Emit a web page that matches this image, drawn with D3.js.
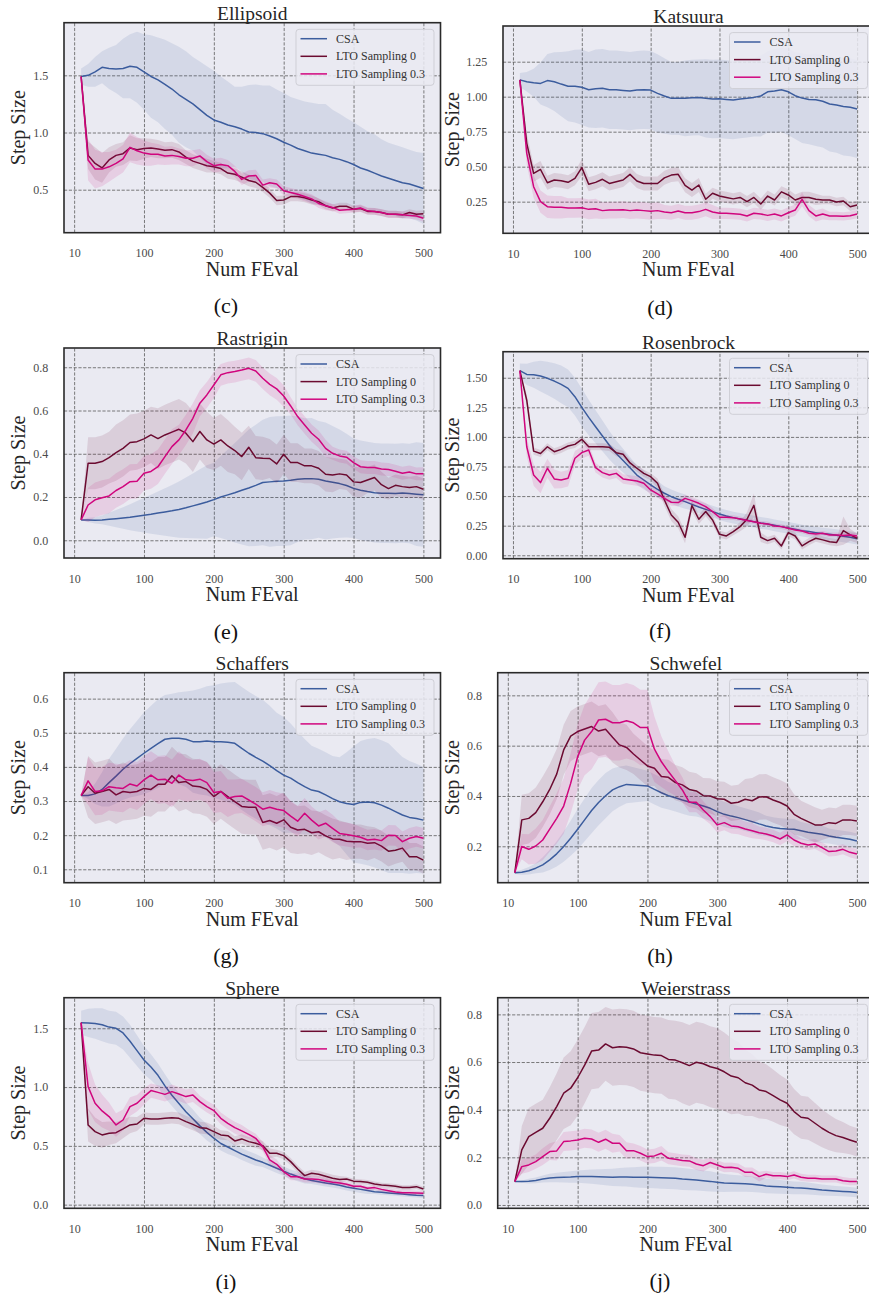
<!DOCTYPE html>
<html><head><meta charset="utf-8">
<script src="https://cdn.jsdelivr.net/npm/d3@7"></script>
<style>
html,body{margin:0;padding:0;background:#fff;}
svg{display:block;}
text{font-family:"Liberation Serif","Times New Roman",serif;}
</style></head>
<body>
<svg id="chart" width="869" height="1302"></svg>
<script>
// ---------- shared axis data ----------
const xValues = [10,20,30,40,50,60,70,80,90,100,110,120,130,140,150,160,170,180,190,200,210,220,230,240,250,260,270,280,290,300,310,320,330,340,350,360,370,380,390,400,410,420,430,440,450,460,470,480,490,500];
const xTicks = [0,100,200,300,400,500];
const xTickLabels = ["10","100","200","300","400","500"];
const seriesNames = ["CSA","LTO Sampling 0","LTO Sampling 0.3"];

// ---------- Ellipsoid ----------
const ellipsoidCSA = [1.49,1.50,1.53,1.57,1.56,1.555,1.56,1.58,1.57,1.53,1.49,1.46,1.42,1.38,1.33,1.29,1.25,1.20,1.15,1.11,1.09,1.065,1.05,1.03,1.005,1.00,0.99,0.97,0.945,0.915,0.89,0.86,0.84,0.82,0.81,0.80,0.78,0.765,0.745,0.72,0.69,0.67,0.645,0.62,0.60,0.58,0.56,0.55,0.53,0.51];
const ellipsoidCSASd = [0.07,0.10,0.13,0.14,0.18,0.21,0.26,0.28,0.31,0.33,0.36,0.37,0.39,0.40,0.42,0.42,0.41,0.42,0.43,0.43,0.40,0.38,0.35,0.37,0.41,0.42,0.42,0.44,0.43,0.43,0.42,0.43,0.43,0.44,0.44,0.45,0.42,0.40,0.38,0.37,0.36,0.34,0.34,0.32,0.31,0.31,0.31,0.30,0.30,0.31];
const ellipsoidLTO0 = [1.49,0.80,0.73,0.69,0.76,0.80,0.815,0.865,0.85,0.86,0.865,0.855,0.845,0.85,0.83,0.785,0.75,0.73,0.71,0.70,0.685,0.645,0.635,0.61,0.58,0.565,0.52,0.47,0.405,0.41,0.44,0.44,0.43,0.41,0.395,0.36,0.34,0.355,0.355,0.33,0.335,0.31,0.31,0.30,0.285,0.285,0.28,0.30,0.285,0.29];
const ellipsoidLTO0Sd = [0.0,0.12,0.14,0.13,0.11,0.10,0.10,0.11,0.10,0.09,0.08,0.08,0.07,0.07,0.07,0.06,0.06,0.06,0.06,0.05,0.05,0.05,0.05,0.05,0.05,0.05,0.04,0.04,0.04,0.04,0.04,0.04,0.04,0.04,0.03,0.03,0.03,0.03,0.03,0.03,0.03,0.03,0.03,0.03,0.03,0.03,0.03,0.03,0.03,0.03];
const ellipsoidLTO03 = [1.49,0.76,0.68,0.68,0.70,0.73,0.77,0.87,0.84,0.82,0.81,0.81,0.795,0.80,0.79,0.775,0.775,0.795,0.745,0.71,0.72,0.71,0.66,0.59,0.62,0.625,0.54,0.56,0.55,0.49,0.475,0.46,0.44,0.42,0.38,0.36,0.345,0.32,0.325,0.33,0.34,0.315,0.31,0.30,0.285,0.285,0.28,0.275,0.27,0.25];
const ellipsoidLTO03Sd = [0.0,0.18,0.17,0.15,0.13,0.12,0.12,0.13,0.12,0.11,0.10,0.09,0.08,0.08,0.07,0.07,0.07,0.06,0.06,0.06,0.06,0.05,0.05,0.05,0.05,0.05,0.05,0.04,0.04,0.04,0.04,0.04,0.04,0.04,0.04,0.04,0.03,0.03,0.03,0.03,0.03,0.03,0.03,0.03,0.03,0.03,0.03,0.03,0.03,0.03];

// ---------- Katsuura ----------
const katsuuraCSA = [1.12,1.107,1.10,1.095,1.115,1.107,1.09,1.075,1.075,1.067,1.05,1.057,1.06,1.05,1.05,1.045,1.04,1.047,1.05,1.047,1.024,1.005,0.988,0.988,0.988,0.993,0.995,0.988,0.983,0.985,0.98,0.976,0.983,0.988,0.995,1.005,1.035,1.04,1.05,1.035,1.007,0.99,0.98,0.978,0.967,0.948,0.94,0.93,0.924,0.912];
const katsuuraCSASd = [0.05,0.07,0.10,0.15,0.19,0.21,0.23,0.25,0.26,0.27,0.27,0.28,0.28,0.28,0.28,0.28,0.28,0.28,0.28,0.28,0.28,0.27,0.26,0.26,0.27,0.27,0.27,0.28,0.28,0.28,0.28,0.28,0.28,0.28,0.28,0.29,0.29,0.30,0.30,0.31,0.31,0.32,0.32,0.33,0.33,0.34,0.34,0.35,0.35,0.35];
const katsuuraLTO0 = [1.12,0.667,0.452,0.48,0.385,0.405,0.40,0.388,0.417,0.493,0.374,0.388,0.41,0.38,0.393,0.405,0.445,0.398,0.38,0.38,0.38,0.42,0.44,0.445,0.367,0.333,0.369,0.267,0.31,0.29,0.28,0.27,0.28,0.25,0.28,0.233,0.29,0.262,0.32,0.298,0.262,0.28,0.28,0.267,0.262,0.262,0.248,0.255,0.214,0.226];
const katsuuraLTO0Sd = [0.0,0.07,0.06,0.06,0.05,0.05,0.05,0.05,0.05,0.06,0.05,0.05,0.05,0.05,0.05,0.05,0.05,0.05,0.05,0.05,0.05,0.05,0.05,0.05,0.05,0.05,0.05,0.04,0.04,0.04,0.04,0.04,0.04,0.04,0.04,0.04,0.04,0.04,0.04,0.04,0.04,0.04,0.04,0.04,0.03,0.03,0.03,0.03,0.03,0.03];
const katsuuraLTO03 = [1.12,0.595,0.357,0.25,0.214,0.21,0.21,0.205,0.205,0.207,0.195,0.20,0.186,0.19,0.19,0.193,0.186,0.19,0.186,0.181,0.186,0.176,0.171,0.183,0.171,0.171,0.179,0.195,0.176,0.167,0.167,0.164,0.16,0.148,0.167,0.162,0.152,0.162,0.148,0.171,0.19,0.267,0.186,0.148,0.162,0.148,0.148,0.145,0.15,0.162];
const katsuuraLTO03Sd = [0.0,0.08,0.08,0.08,0.08,0.08,0.08,0.07,0.07,0.07,0.07,0.07,0.06,0.06,0.06,0.06,0.06,0.06,0.06,0.06,0.06,0.05,0.05,0.05,0.05,0.05,0.05,0.05,0.05,0.04,0.04,0.04,0.04,0.04,0.04,0.04,0.04,0.04,0.04,0.04,0.04,0.05,0.04,0.04,0.04,0.03,0.03,0.03,0.03,0.03];

// ---------- Rastrigin ----------
const rastriginCSA = [0.094,0.094,0.092,0.094,0.097,0.10,0.103,0.106,0.111,0.116,0.12,0.126,0.131,0.136,0.142,0.15,0.159,0.168,0.177,0.188,0.20,0.21,0.22,0.231,0.242,0.254,0.267,0.27,0.273,0.274,0.277,0.282,0.284,0.285,0.282,0.274,0.268,0.262,0.253,0.24,0.231,0.225,0.22,0.217,0.217,0.216,0.219,0.216,0.213,0.21];
const rastriginCSASd = [0.0,0.01,0.015,0.02,0.03,0.04,0.05,0.06,0.07,0.08,0.09,0.10,0.11,0.12,0.13,0.14,0.15,0.16,0.17,0.17,0.19,0.21,0.23,0.25,0.27,0.28,0.29,0.30,0.30,0.30,0.30,0.29,0.28,0.28,0.27,0.27,0.26,0.25,0.24,0.23,0.23,0.23,0.23,0.23,0.23,0.23,0.23,0.23,0.24,0.24];
const rastriginLTO0 = [0.094,0.356,0.356,0.364,0.382,0.405,0.425,0.452,0.456,0.469,0.487,0.47,0.487,0.50,0.513,0.495,0.456,0.503,0.464,0.445,0.464,0.436,0.415,0.387,0.43,0.382,0.379,0.378,0.353,0.398,0.359,0.359,0.344,0.344,0.333,0.305,0.302,0.307,0.302,0.27,0.267,0.279,0.29,0.257,0.239,0.254,0.248,0.244,0.248,0.236];
const rastriginLTO0Sd = [0.0,0.12,0.12,0.12,0.12,0.13,0.13,0.13,0.13,0.13,0.13,0.14,0.14,0.14,0.14,0.14,0.14,0.13,0.13,0.12,0.12,0.12,0.11,0.11,0.10,0.10,0.10,0.09,0.09,0.09,0.09,0.09,0.08,0.08,0.08,0.08,0.08,0.07,0.07,0.07,0.07,0.06,0.06,0.06,0.05,0.05,0.05,0.05,0.05,0.05];
const rastriginLTO03 = [0.094,0.163,0.187,0.197,0.205,0.23,0.248,0.271,0.273,0.31,0.318,0.34,0.387,0.433,0.464,0.51,0.564,0.634,0.672,0.718,0.765,0.775,0.78,0.787,0.795,0.783,0.749,0.721,0.70,0.667,0.621,0.572,0.533,0.495,0.467,0.425,0.402,0.39,0.384,0.359,0.34,0.336,0.336,0.33,0.327,0.319,0.31,0.316,0.307,0.308];
const rastriginLTO03Sd = [0.0,0.08,0.08,0.08,0.08,0.08,0.08,0.08,0.08,0.08,0.08,0.08,0.08,0.08,0.07,0.07,0.07,0.06,0.06,0.06,0.05,0.05,0.05,0.05,0.05,0.05,0.05,0.05,0.05,0.05,0.04,0.04,0.04,0.04,0.04,0.04,0.03,0.03,0.03,0.03,0.03,0.03,0.03,0.03,0.03,0.03,0.03,0.03,0.03,0.03];

// ---------- Rosenbrock ----------
const rosenbrockCSA = [1.56,1.528,1.525,1.514,1.495,1.472,1.444,1.41,1.34,1.25,1.165,1.086,1.008,0.93,0.86,0.80,0.74,0.678,0.636,0.594,0.557,0.524,0.495,0.473,0.453,0.43,0.408,0.388,0.369,0.349,0.332,0.318,0.307,0.296,0.284,0.273,0.265,0.253,0.242,0.231,0.22,0.208,0.20,0.191,0.183,0.177,0.169,0.16,0.152,0.14];
const rosenbrockCSASd = [0.06,0.09,0.11,0.13,0.14,0.15,0.16,0.16,0.16,0.16,0.15,0.14,0.13,0.12,0.11,0.10,0.09,0.08,0.08,0.07,0.07,0.06,0.06,0.06,0.06,0.05,0.05,0.05,0.05,0.05,0.05,0.05,0.05,0.05,0.05,0.05,0.05,0.05,0.05,0.05,0.05,0.05,0.05,0.05,0.05,0.05,0.05,0.05,0.05,0.05];
const rosenbrockLTO0 = [1.56,1.31,0.88,0.86,0.917,0.875,0.895,0.923,0.937,0.98,0.917,0.917,0.917,0.912,0.867,0.853,0.78,0.735,0.692,0.664,0.608,0.467,0.34,0.279,0.152,0.42,0.304,0.369,0.298,0.177,0.163,0.20,0.242,0.304,0.422,0.152,0.124,0.144,0.079,0.191,0.163,0.079,0.115,0.144,0.13,0.115,0.107,0.208,0.172,0.144];
const rosenbrockLTO0Sd = [0.0,0.05,0.03,0.03,0.03,0.03,0.03,0.03,0.03,0.03,0.03,0.03,0.03,0.03,0.03,0.03,0.03,0.03,0.03,0.03,0.04,0.05,0.05,0.05,0.05,0.05,0.04,0.04,0.04,0.03,0.03,0.03,0.04,0.06,0.10,0.04,0.03,0.03,0.03,0.03,0.03,0.03,0.03,0.03,0.03,0.03,0.03,0.12,0.05,0.04];
const rosenbrockLTO03 = [1.56,0.917,0.678,0.614,0.735,0.645,0.636,0.65,0.82,0.867,0.89,0.74,0.698,0.678,0.692,0.645,0.636,0.628,0.608,0.552,0.518,0.481,0.448,0.445,0.481,0.462,0.439,0.411,0.369,0.321,0.321,0.318,0.307,0.293,0.284,0.27,0.265,0.248,0.242,0.228,0.214,0.205,0.186,0.18,0.186,0.172,0.172,0.166,0.172,0.163];
const rosenbrockLTO03Sd = [0.0,0.08,0.09,0.09,0.08,0.08,0.07,0.07,0.06,0.05,0.05,0.04,0.04,0.04,0.04,0.04,0.04,0.04,0.04,0.04,0.03,0.03,0.03,0.03,0.03,0.03,0.03,0.03,0.03,0.02,0.02,0.02,0.02,0.02,0.02,0.02,0.02,0.02,0.02,0.02,0.02,0.02,0.02,0.02,0.02,0.02,0.02,0.02,0.02,0.02];

// ---------- Schaffers ----------
const schaffersCSA = [0.316,0.316,0.321,0.334,0.354,0.373,0.393,0.41,0.425,0.44,0.454,0.468,0.481,0.484,0.484,0.481,0.474,0.474,0.476,0.474,0.474,0.472,0.469,0.454,0.44,0.428,0.417,0.404,0.389,0.376,0.367,0.354,0.342,0.332,0.328,0.318,0.307,0.298,0.293,0.29,0.296,0.297,0.295,0.288,0.279,0.269,0.259,0.252,0.249,0.244];
const schaffersCSASd = [0.0,0.01,0.03,0.05,0.07,0.08,0.09,0.10,0.11,0.12,0.125,0.13,0.13,0.13,0.135,0.14,0.15,0.155,0.16,0.165,0.17,0.175,0.18,0.18,0.18,0.18,0.18,0.175,0.17,0.17,0.16,0.15,0.14,0.13,0.125,0.125,0.125,0.13,0.15,0.17,0.18,0.185,0.19,0.19,0.19,0.18,0.17,0.165,0.16,0.156];
const schaffersLTO0 = [0.316,0.342,0.323,0.328,0.334,0.318,0.328,0.325,0.328,0.337,0.334,0.349,0.349,0.374,0.354,0.357,0.344,0.342,0.334,0.313,0.328,0.313,0.298,0.284,0.282,0.282,0.237,0.243,0.235,0.245,0.223,0.215,0.217,0.207,0.21,0.198,0.189,0.188,0.182,0.181,0.181,0.176,0.178,0.168,0.153,0.156,0.162,0.137,0.137,0.127];
const schaffersLTO0Sd = [0.0,0.09,0.09,0.09,0.09,0.085,0.085,0.08,0.08,0.08,0.08,0.08,0.08,0.085,0.085,0.08,0.08,0.08,0.08,0.08,0.08,0.08,0.08,0.08,0.08,0.08,0.08,0.08,0.08,0.08,0.075,0.07,0.07,0.065,0.06,0.06,0.06,0.055,0.055,0.05,0.05,0.05,0.045,0.045,0.045,0.04,0.04,0.04,0.04,0.04];
const schaffersLTO03 = [0.316,0.359,0.328,0.33,0.342,0.339,0.337,0.35,0.344,0.362,0.376,0.362,0.364,0.352,0.376,0.362,0.36,0.364,0.354,0.325,0.328,0.308,0.313,0.315,0.303,0.291,0.276,0.282,0.276,0.272,0.256,0.241,0.264,0.244,0.227,0.235,0.22,0.205,0.202,0.198,0.194,0.186,0.188,0.184,0.20,0.199,0.181,0.191,0.196,0.191];
const schaffersLTO03Sd = [0.0,0.07,0.07,0.07,0.07,0.07,0.07,0.07,0.07,0.07,0.07,0.07,0.07,0.07,0.07,0.065,0.06,0.06,0.06,0.06,0.06,0.055,0.05,0.05,0.05,0.05,0.05,0.05,0.05,0.05,0.045,0.045,0.045,0.04,0.04,0.04,0.04,0.035,0.035,0.035,0.03,0.03,0.03,0.03,0.03,0.03,0.03,0.03,0.03,0.03];

// ---------- Schwefel ----------
const schwefelCSA = [0.095,0.097,0.103,0.113,0.126,0.146,0.17,0.199,0.232,0.268,0.305,0.342,0.374,0.401,0.424,0.437,0.446,0.444,0.442,0.44,0.426,0.413,0.401,0.393,0.384,0.376,0.368,0.36,0.351,0.338,0.327,0.32,0.314,0.306,0.298,0.289,0.281,0.275,0.271,0.269,0.268,0.262,0.256,0.252,0.248,0.241,0.236,0.232,0.228,0.221];
const schwefelCSASd = [0.005,0.01,0.015,0.02,0.03,0.04,0.05,0.06,0.07,0.08,0.085,0.09,0.09,0.09,0.085,0.08,0.075,0.07,0.065,0.06,0.06,0.06,0.055,0.055,0.055,0.055,0.05,0.05,0.05,0.05,0.05,0.05,0.045,0.045,0.045,0.045,0.04,0.04,0.04,0.04,0.04,0.035,0.035,0.035,0.035,0.03,0.03,0.03,0.03,0.03];
const schwefelLTO0 = [0.095,0.305,0.311,0.334,0.377,0.426,0.487,0.583,0.638,0.656,0.666,0.676,0.658,0.665,0.633,0.603,0.593,0.567,0.543,0.519,0.51,0.477,0.474,0.453,0.444,0.426,0.42,0.401,0.40,0.389,0.387,0.371,0.375,0.387,0.381,0.396,0.397,0.384,0.374,0.36,0.327,0.311,0.298,0.285,0.285,0.294,0.291,0.305,0.305,0.301];
const schwefelLTO0Sd = [0.0,0.1,0.1,0.1,0.1,0.1,0.1,0.1,0.1,0.1,0.1,0.1,0.1,0.1,0.1,0.09,0.09,0.08,0.08,0.08,0.07,0.07,0.07,0.07,0.07,0.07,0.07,0.07,0.07,0.07,0.07,0.07,0.07,0.08,0.09,0.09,0.09,0.09,0.09,0.09,0.08,0.07,0.07,0.07,0.06,0.06,0.06,0.06,0.06,0.06];
const schwefelLTO03 = [0.095,0.199,0.188,0.201,0.225,0.268,0.311,0.36,0.45,0.556,0.622,0.656,0.702,0.705,0.691,0.691,0.699,0.691,0.672,0.672,0.586,0.536,0.497,0.461,0.424,0.375,0.375,0.344,0.318,0.285,0.294,0.281,0.278,0.269,0.262,0.254,0.249,0.241,0.229,0.245,0.225,0.212,0.205,0.209,0.195,0.179,0.181,0.188,0.176,0.169];
const schwefelLTO03Sd = [0.0,0.05,0.06,0.07,0.08,0.09,0.1,0.11,0.12,0.13,0.14,0.15,0.15,0.15,0.15,0.15,0.15,0.15,0.15,0.15,0.13,0.1,0.08,0.06,0.05,0.04,0.04,0.035,0.03,0.03,0.03,0.03,0.03,0.03,0.03,0.025,0.025,0.025,0.025,0.025,0.025,0.02,0.02,0.02,0.02,0.02,0.02,0.02,0.02,0.02];

// ---------- Sphere ----------
const sphereCSA = [1.548,1.545,1.54,1.53,1.51,1.50,1.46,1.39,1.31,1.23,1.17,1.10,1.01,0.93,0.86,0.79,0.73,0.67,0.615,0.565,0.52,0.49,0.46,0.43,0.405,0.38,0.36,0.335,0.31,0.285,0.26,0.24,0.22,0.205,0.195,0.185,0.175,0.165,0.15,0.14,0.13,0.12,0.11,0.105,0.10,0.095,0.09,0.085,0.08,0.077];
const sphereCSASd = [0.1,0.12,0.13,0.14,0.14,0.14,0.14,0.14,0.13,0.12,0.11,0.10,0.10,0.09,0.09,0.08,0.08,0.07,0.07,0.06,0.06,0.06,0.05,0.05,0.05,0.05,0.04,0.04,0.04,0.04,0.04,0.04,0.04,0.03,0.03,0.03,0.03,0.03,0.03,0.03,0.03,0.03,0.02,0.02,0.02,0.02,0.02,0.02,0.02,0.02];
const sphereLTO0 = [1.548,0.678,0.621,0.593,0.607,0.612,0.644,0.678,0.686,0.734,0.729,0.729,0.734,0.74,0.734,0.706,0.683,0.655,0.649,0.621,0.593,0.587,0.542,0.559,0.536,0.522,0.502,0.437,0.437,0.417,0.366,0.303,0.247,0.267,0.258,0.241,0.224,0.213,0.218,0.20,0.196,0.19,0.176,0.167,0.162,0.156,0.145,0.145,0.153,0.133];
const sphereLTO0Sd = [0.0,0.14,0.12,0.11,0.1,0.09,0.08,0.07,0.06,0.05,0.05,0.05,0.05,0.05,0.05,0.05,0.05,0.05,0.05,0.05,0.04,0.04,0.04,0.04,0.04,0.04,0.04,0.04,0.03,0.03,0.03,0.03,0.03,0.03,0.03,0.03,0.03,0.03,0.02,0.02,0.02,0.02,0.02,0.02,0.02,0.02,0.02,0.02,0.02,0.02];
const sphereLTO03 = [1.548,1.004,0.862,0.797,0.749,0.678,0.72,0.834,0.862,0.919,0.97,0.955,0.938,0.961,0.941,0.919,0.933,0.876,0.834,0.80,0.734,0.692,0.655,0.627,0.598,0.564,0.493,0.38,0.343,0.281,0.238,0.238,0.218,0.218,0.213,0.201,0.19,0.184,0.173,0.156,0.156,0.139,0.145,0.13,0.119,0.108,0.102,0.102,0.099,0.096];
const sphereLTO03Sd = [0.0,0.2,0.16,0.14,0.12,0.1,0.09,0.08,0.07,0.07,0.06,0.06,0.06,0.06,0.06,0.06,0.06,0.05,0.05,0.05,0.05,0.05,0.05,0.05,0.04,0.04,0.04,0.04,0.04,0.03,0.03,0.03,0.03,0.03,0.03,0.03,0.02,0.02,0.02,0.02,0.02,0.02,0.02,0.02,0.02,0.02,0.02,0.02,0.02,0.02];

// ---------- Weierstrass ----------
const weierstrassCSA = [0.098,0.098,0.10,0.103,0.109,0.113,0.115,0.116,0.117,0.119,0.119,0.119,0.118,0.117,0.116,0.117,0.117,0.116,0.116,0.116,0.115,0.114,0.113,0.112,0.109,0.107,0.105,0.102,0.099,0.095,0.092,0.091,0.09,0.089,0.087,0.084,0.08,0.078,0.076,0.074,0.072,0.071,0.069,0.066,0.063,0.061,0.059,0.057,0.055,0.052];
const weierstrassCSASd = [0.0,0.005,0.01,0.012,0.015,0.018,0.02,0.022,0.024,0.026,0.028,0.03,0.032,0.034,0.036,0.038,0.04,0.042,0.044,0.045,0.045,0.046,0.046,0.046,0.046,0.045,0.044,0.043,0.042,0.04,0.038,0.036,0.035,0.034,0.033,0.032,0.031,0.03,0.029,0.028,0.027,0.026,0.025,0.024,0.023,0.022,0.021,0.02,0.02,0.02];
const weierstrassLTO0 = [0.098,0.231,0.287,0.305,0.322,0.364,0.413,0.469,0.49,0.534,0.587,0.646,0.65,0.676,0.66,0.664,0.662,0.655,0.639,0.634,0.629,0.627,0.611,0.608,0.597,0.585,0.599,0.593,0.58,0.573,0.559,0.541,0.534,0.513,0.503,0.483,0.476,0.459,0.441,0.427,0.392,0.368,0.364,0.343,0.322,0.305,0.291,0.283,0.273,0.263];
const weierstrassLTO0Sd = [0.0,0.1,0.12,0.12,0.12,0.13,0.14,0.15,0.155,0.16,0.16,0.16,0.16,0.155,0.16,0.16,0.16,0.16,0.16,0.16,0.16,0.16,0.165,0.165,0.17,0.17,0.17,0.17,0.17,0.17,0.165,0.16,0.15,0.14,0.13,0.12,0.115,0.11,0.105,0.1,0.095,0.09,0.09,0.085,0.08,0.075,0.07,0.065,0.06,0.06];
const weierstrassLTO03 = [0.098,0.161,0.168,0.182,0.203,0.224,0.227,0.266,0.269,0.273,0.28,0.277,0.263,0.276,0.259,0.259,0.228,0.228,0.217,0.203,0.206,0.217,0.196,0.192,0.187,0.185,0.172,0.165,0.178,0.168,0.157,0.158,0.154,0.137,0.137,0.119,0.129,0.123,0.123,0.119,0.126,0.116,0.112,0.112,0.109,0.109,0.109,0.102,0.098,0.098];
const weierstrassLTO03Sd = [0.0,0.03,0.03,0.03,0.035,0.035,0.04,0.04,0.04,0.04,0.04,0.04,0.04,0.04,0.04,0.035,0.035,0.03,0.03,0.03,0.03,0.03,0.025,0.025,0.025,0.025,0.025,0.025,0.02,0.02,0.02,0.02,0.02,0.02,0.02,0.02,0.015,0.015,0.015,0.015,0.015,0.015,0.015,0.015,0.015,0.015,0.015,0.015,0.015,0.015];

// ---------- y ticks per panel ----------
const ellipsoidYTicks = [0.5,1.0,1.5];
const katsuuraYTicks = [0.25,0.5,0.75,1.0,1.25];
const rastriginYTicks = [0.0,0.2,0.4,0.6,0.8];
const rosenbrockYTicks = [0.0,0.25,0.5,0.75,1.0,1.25,1.5];
const schaffersYTicks = [0.1,0.2,0.3,0.4,0.5,0.6];
const schwefelYTicks = [0.2,0.4,0.6,0.8];
const sphereYTicks = [0.0,0.5,1.0,1.5];
const weierstrassYTicks = [0.0,0.2,0.4,0.6,0.8];

// ---------- styles ----------
const colors = ["#3c5d9e","#6b0b30","#d1057e"];
const bgColor = "#eaeaf2";

// ---------- layout (positions only) ----------
const panels = [
  {title:"Ellipsoid", cap:"(c)", x0:64, x1:440.5, y0:22.7, y1:232.7, yDom:[0.124,1.96], fmt:".1f", ticks:ellipsoidYTicks, ylx:25, capX:226, capY:313,
   s:[[ellipsoidCSA,ellipsoidCSASd],[ellipsoidLTO0,ellipsoidLTO0Sd],[ellipsoidLTO03,ellipsoidLTO03Sd]]},
  {title:"Katsuura", cap:"(d)", x0:503, x1:874, y0:26, y1:233.3, yDom:[0.024,1.505], fmt:".2f", ticks:katsuuraYTicks, ylx:459, capX:660, capY:315,
   s:[[katsuuraCSA,katsuuraCSASd],[katsuuraLTO0,katsuuraLTO0Sd],[katsuuraLTO03,katsuuraLTO03Sd]]},
  {title:"Rastrigin", cap:"(e)", x0:64, x1:440.5, y0:348, y1:558, yDom:[-0.082,0.889], fmt:".1f", ticks:rastriginYTicks, ylx:25, capX:226, capY:639,
   s:[[rastriginCSA,rastriginCSASd],[rastriginLTO0,rastriginLTO0Sd],[rastriginLTO03,rastriginLTO03Sd]]},
  {title:"Rosenbrock", cap:"(f)", x0:503, x1:874, y0:351.7, y1:558.7, yDom:[-0.029,1.72], fmt:".2f", ticks:rosenbrockYTicks, ylx:459, capX:660, capY:638,
   s:[[rosenbrockCSA,rosenbrockCSASd],[rosenbrockLTO0,rosenbrockLTO0Sd],[rosenbrockLTO03,rosenbrockLTO03Sd]]},
  {title:"Schaffers", cap:"(g)", x0:64, x1:440.5, y0:672.7, y1:882.7, yDom:[0.0607,0.676], fmt:".1f", ticks:schaffersYTicks, ylx:25, capX:226, capY:963,
   s:[[schaffersCSA,schaffersCSASd],[schaffersLTO0,schaffersLTO0Sd],[schaffersLTO03,schaffersLTO03Sd]]},
  {title:"Schwefel", cap:"(h)", x0:497.7, x1:874, y0:672.7, y1:882.7, yDom:[0.0553,0.89], fmt:".1f", ticks:schwefelYTicks, ylx:459, capX:660, capY:963,
   s:[[schwefelCSA,schwefelCSASd],[schwefelLTO0,schwefelLTO0Sd],[schwefelLTO03,schwefelLTO03Sd]]},
  {title:"Sphere", cap:"(i)", x0:64, x1:440.5, y0:997.7, y1:1208.3, yDom:[-0.031,1.76], fmt:".1f", ticks:sphereYTicks, ylx:25, capX:226, capY:1289,
   s:[[sphereCSA,sphereCSASd],[sphereLTO0,sphereLTO0Sd],[sphereLTO03,sphereLTO03Sd]]},
  {title:"Weierstrass", cap:"(j)", x0:497.7, x1:874, y0:997.7, y1:1208.3, yDom:[-0.014,0.87], fmt:".1f", ticks:weierstrassYTicks, ylx:459, capX:660, capY:1288,
   s:[[weierstrassCSA,weierstrassCSASd],[weierstrassLTO0,weierstrassLTO0Sd],[weierstrassLTO03,weierstrassLTO03Sd]]}
];

const svg = d3.select("#chart");

panels.forEach((p, pi) => {
  const g = svg.append("g");
  const x = d3.scaleLinear().domain([-14.5, 524.5]).range([p.x0, p.x1]);
  const y = d3.scaleLinear().domain(p.yDom).range([p.y1, p.y0]);
  const h = p.y1 - p.y0;

  const clipId = "clip" + pi;
  svg.append("clipPath").attr("id", clipId).append("rect")
    .attr("x", p.x0).attr("y", p.y0).attr("width", p.x1 - p.x0).attr("height", h);

  g.append("rect").attr("x", p.x0).attr("y", p.y0).attr("width", p.x1 - p.x0).attr("height", h).attr("fill", bgColor);

  // grid
  const gx = g.append("g").attr("transform", `translate(0,${p.y1})`)
    .call(d3.axisBottom(x).tickValues(xTicks).tickSize(-h).tickFormat(""));
  const gy = g.append("g").attr("transform", `translate(${p.x0},0)`)
    .call(d3.axisLeft(y).tickValues(p.ticks).tickSize(-(p.x1 - p.x0)).tickFormat(""));
  [gx, gy].forEach(a => {
    a.select(".domain").remove();
    a.selectAll("line").attr("stroke", "#5a5a5a").attr("stroke-width", 0.8).attr("stroke-dasharray", "3.2,1.6");
  });

  // data
  const plot = g.append("g").attr("clip-path", `url(#${clipId})`);
  p.s.forEach((pair, si) => {
    const pts = xValues.map((xv, i) => ({x: xv, m: pair[0][i], sd: pair[1][i]}));
    plot.append("path").datum(pts)
      .attr("fill", "none").attr("stroke", colors[si]).attr("stroke-width", 1.5).attr("stroke-linejoin", "round")
      .attr("d", d3.line().x(d => x(d.x)).y(d => y(d.m)));
    plot.append("path").datum(pts)
      .attr("fill", colors[si]).attr("fill-opacity", 0.12).attr("stroke", "none")
      .attr("d", d3.area().x(d => x(d.x)).y0(d => y(d.m - d.sd)).y1(d => y(d.m + d.sd)));
  });

  // spines
  g.append("rect").attr("x", p.x0).attr("y", p.y0).attr("width", p.x1 - p.x0).attr("height", h)
    .attr("fill", "none").attr("stroke", "#2a2a2a").attr("stroke-width", 1.6);

  // tick labels
  const ax = g.append("g").attr("transform", `translate(0,${p.y1})`)
    .call(d3.axisBottom(x).tickValues(xTicks).tickSize(0).tickPadding(16).tickFormat((d, i) => xTickLabels[i]));
  const ay = g.append("g").attr("transform", `translate(${p.x0},0)`)
    .call(d3.axisLeft(y).tickValues(p.ticks).tickSize(0).tickPadding(15.7).tickFormat(d3.format(p.fmt)));
  [ax, ay].forEach(a => {
    a.select(".domain").remove();
    a.selectAll("text").attr("font-family", '"Liberation Serif", serif').attr("font-size", 12).attr("fill", "#4a4a4a");
  });

  // title and labels
  g.append("text").attr("x", (p.x0 + p.x1) / 2).attr("y", p.y0 - 2.6).attr("text-anchor", "middle")
    .attr("font-size", 19.5).attr("fill", "#262626").text(p.title);
  g.append("text").attr("x", (p.x0 + p.x1) / 2).attr("y", p.y1 + 43).attr("text-anchor", "middle")
    .attr("font-size", 20).attr("fill", "#262626").text("Num FEval");
  g.append("text").attr("transform", `translate(${p.ylx},${(p.y0 + p.y1) / 2}) rotate(-90)`).attr("text-anchor", "middle")
    .attr("font-size", 20).attr("fill", "#262626").text("Step Size");
  g.append("text").attr("x", p.capX).attr("y", p.capY).attr("text-anchor", "middle")
    .attr("font-size", 22).attr("fill", "#111").text(p.cap);

  // legend
  const lw = 138, lh = 56;
  const lx = p.x1 - 6.5 - lw, ly = p.y0 + 6.6;
  const leg = g.append("g").attr("transform", `translate(${lx},${ly})`);
  leg.append("rect").attr("width", lw).attr("height", lh).attr("rx", 3)
    .attr("fill", bgColor).attr("fill-opacity", 0.85).attr("stroke", "#cfcfd6").attr("stroke-width", 1);
  seriesNames.forEach((nm, i) => {
    const ry = 9.4 + i * 17.6;
    leg.append("line").attr("x1", 4.5).attr("x2", 31).attr("y1", ry).attr("y2", ry)
      .attr("stroke", colors[i]).attr("stroke-width", 1.5);
    leg.append("text").attr("x", 40).attr("y", ry + 4).attr("font-size", 12).attr("fill", "#333").text(nm);
  });
});
</script>
</body></html>
